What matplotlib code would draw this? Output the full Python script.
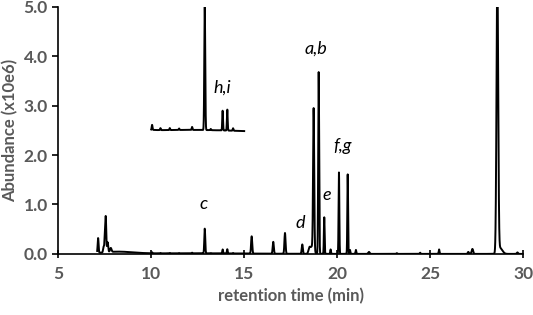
import numpy as np
import matplotlib
matplotlib.use("Agg")
import matplotlib.pyplot as plt

# peak table: retention time (min), height (x1e6), width (sigma, min)
peak_t = [7.15, 7.45, 7.51, 7.56, 7.66, 7.83, 10.05, 10.5, 11.0, 11.5, 12.2, 12.88,
          13.2, 13.84, 14.09, 14.4, 15.4, 16.56, 17.19, 18.12, 18.5, 18.65, 18.73, 19.0,
          19.30, 19.64, 20.09, 20.56, 20.68, 21.0, 21.7, 23.2, 24.45, 25.47, 27.04,
          27.26, 28.6, 28.75, 29.68]
peak_h = [0.30, 0.12, 0.30, 0.72, 0.20, 0.08, 0.02, 0.008, 0.008, 0.006, 0.012, 0.50,
          0.005, 0.08, 0.085, 0.01, 0.35, 0.24, 0.42, 0.19, 0.10, 0.15, 2.85, 3.68,
          0.74, 0.09, 1.65, 1.61, 0.08, 0.08, 0.04, 0.015, 0.025, 0.09, 0.04,
          0.10, 5.6, 0.12, 0.03]
peak_w = [0.025, 0.03, 0.02, 0.025, 0.03, 0.04, 0.02, 0.02, 0.02, 0.02, 0.02, 0.025,
          0.02, 0.02, 0.02, 0.02, 0.03, 0.03, 0.03, 0.03, 0.05, 0.09, 0.03, 0.025,
          0.02, 0.02, 0.02, 0.02, 0.02, 0.02, 0.04, 0.02, 0.02, 0.02, 0.03,
          0.04, 0.045, 0.12, 0.03]

# baseline drift humps (time, level, width)
drift_t = [8.2, 12.0]
drift_h = [0.04, 0.012]
drift_w = [0.8, 3.0]

labels = ["a,b", "c", "d", "e", "f,g", "h,i"]
label_x = [18.85, 12.84, 17.99, 19.44, 20.3, 13.8]
label_y = [4.16, 1.0, 0.63, 1.2, 2.19, 3.37]

t = np.linspace(7.1, 29.9, 8000)
sig = np.zeros_like(t)
for c, h, w in zip(peak_t + drift_t, peak_h + drift_h, peak_w + drift_w):
    sig += h * np.exp(-0.5 * ((t - c) / w) ** 2)

gray = "#595959"
plt.rcParams['font.family'] = ['Lato', 'DejaVu Sans']

fig = plt.figure(figsize=(5.33, 3.15), dpi=100)
ax = fig.add_axes([0.109, 0.194, 0.873, 0.784])
ax.plot(t, sig, color="black", lw=1.4)

# magnified inset of 10-15 min, drawn on the same axes
m = (t >= 10) & (t <= 15)
ax.plot(t[m], 2.45 + 5 * sig[m], color="black", lw=1.4)

for s, x, y in zip(labels, label_x, label_y):
    ax.text(x, y, s, style="italic", fontsize=13, ha="center", va="center", color="black")

ax.set_xlim(5, 30)
ax.set_ylim(0, 5)
ax.set_xticks([5, 10, 15, 20, 25, 30])
ax.set_yticks([0, 1, 2, 3, 4, 5])
ax.set_yticklabels(["0.0", "1.0", "2.0", "3.0", "4.0", "5.0"])
for s in ["top", "right"]:
    ax.spines[s].set_visible(False)
ax.spines["left"].set_linewidth(1.2)
ax.spines["bottom"].set_linewidth(1.2)
ax.tick_params(axis="x", direction="inout", length=6, width=1.2, labelsize=12.5,
               colors="black", labelcolor=gray, pad=6)
ax.tick_params(axis="y", direction="out", length=4, width=1.2, labelsize=12.5,
               colors="black", labelcolor=gray)
for lb in ax.get_xticklabels() + ax.get_yticklabels():
    lb.set_fontweight("bold")
ax.set_xlabel("retention time (min)", fontsize=12, fontweight="bold", color=gray)
ax.set_ylabel("Abundance (x10e6)", fontsize=12, fontweight="bold", color=gray)

fig.savefig("out.png", dpi=100)
